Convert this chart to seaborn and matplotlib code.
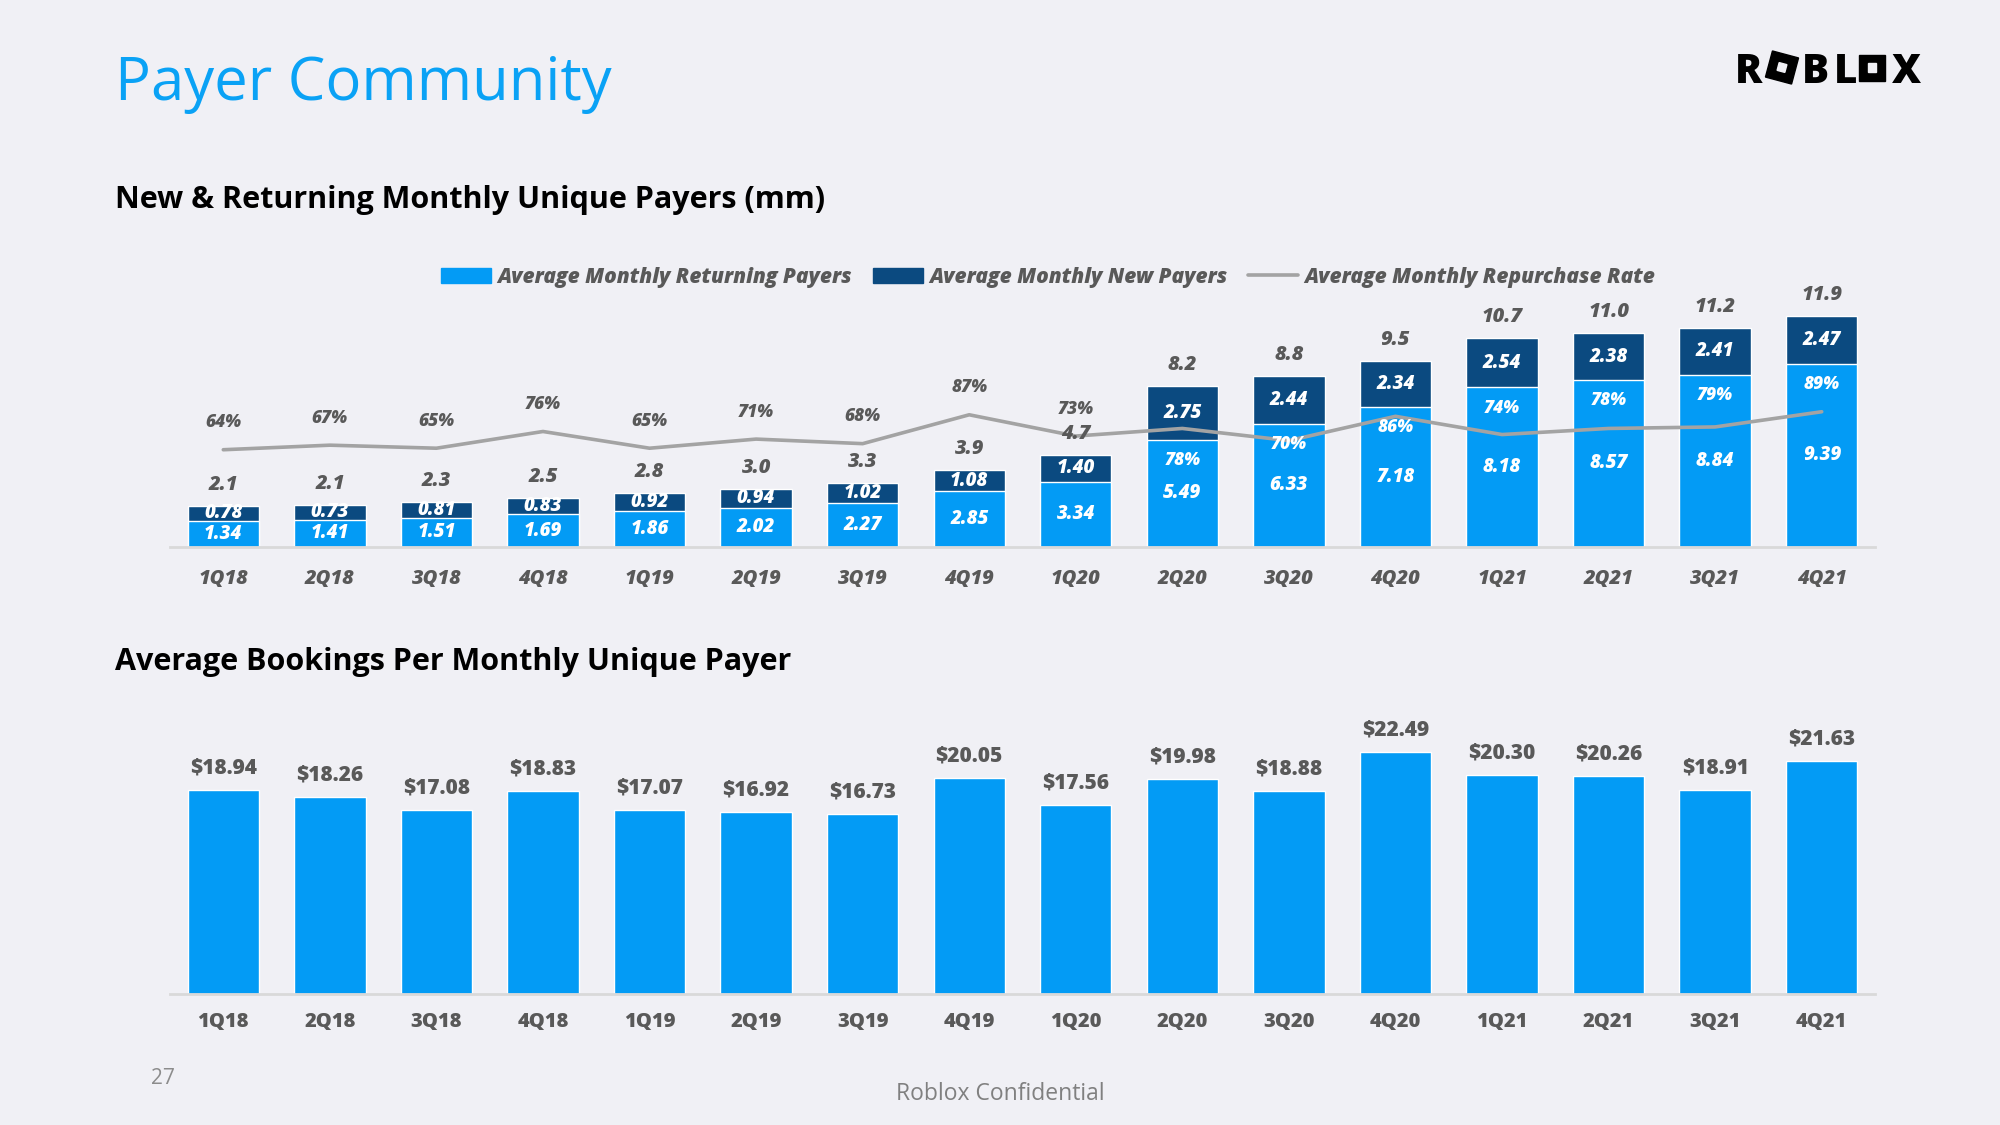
import numpy as np
import pandas as pd
import seaborn as sns
import matplotlib.pyplot as plt
from matplotlib.patches import Patch, Rectangle
from matplotlib.lines import Line2D

# data
quarters = ["1Q18", "2Q18", "3Q18", "4Q18", "1Q19", "2Q19", "3Q19", "4Q19",
            "1Q20", "2Q20", "3Q20", "4Q20", "1Q21", "2Q21", "3Q21", "4Q21"]
returning = [1.34, 1.41, 1.51, 1.69, 1.86, 2.02, 2.27, 2.85,
             3.34, 5.49, 6.33, 7.18, 8.18, 8.57, 8.84, 9.39]
new_payers = [0.78, 0.73, 0.81, 0.83, 0.92, 0.94, 1.02, 1.08,
              1.40, 2.75, 2.44, 2.34, 2.54, 2.38, 2.41, 2.47]
totals = [2.1, 2.1, 2.3, 2.5, 2.8, 3.0, 3.3, 3.9,
          4.7, 8.2, 8.8, 9.5, 10.7, 11.0, 11.2, 11.9]
repurchase = [64, 67, 65, 76, 65, 71, 68, 87, 73, 78, 70, 86, 74, 78, 79, 89]
bookings = [18.94, 18.26, 17.08, 18.83, 17.07, 16.92, 16.73, 20.05,
            17.56, 19.98, 18.88, 22.49, 20.30, 20.26, 18.91, 21.63]

LIGHT = "#039BF5"
DARK = "#0B4A80"
LINE = "#A3A3A3"
BG = "#F0F0F5"
GRAY = "#595959"
TITLE_BLUE = "#0AA2F5"

df = pd.DataFrame({"quarter": quarters, "returning": returning,
                   "new": new_payers, "rate": repurchase, "bookings": bookings})
df["stack"] = df["returning"] + df["new"]

sns.set_style("white")
plt.rcParams["font.family"] = ["Open Sans", "DejaVu Sans"]

fig = plt.figure(figsize=(20, 11.25), dpi=100, facecolor=BG)
H = 1125.0

def px(x, y):
    # pixel (from top) -> figure fraction
    return x / 2000.0, 1 - y / H

num_font = dict(family="Open Sans", weight=800, style="italic")

# ---------- top chart ----------
ax1 = fig.add_axes([0.085, 1 - 547 / H, 0.8525, 253.5 / H])
ax1.set_facecolor("none")
sns.barplot(data=df, x="quarter", y="stack", color=DARK, width=0.67,
            saturation=1, ax=ax1)
sns.barplot(data=df, x="quarter", y="returning", color=LIGHT, width=0.67,
            saturation=1, ax=ax1)
ax1.set_ylim(0, 13)
ax1.set_xlim(-0.5, 15.5)

ax2 = ax1.twinx()
sns.lineplot(x=np.arange(len(quarters)), y=df["rate"] / 100, ax=ax2,
             color=LINE, lw=2.6)
ax2.set_ylim(0, 1.668)
ax2.set_xlim(-0.5, 15.5)

for a in (ax1, ax2):
    a.set_ylabel("")
    a.set_xlabel("")
    a.set_yticks([])
    for s in ("top", "right", "left"):
        a.spines[s].set_visible(False)
ax2.spines["bottom"].set_visible(False)
ax1.spines["bottom"].set_color("#D9D9D9")
ax1.spines["bottom"].set_linewidth(2)
ax1.tick_params(axis="x", length=0, pad=16)
ax1.set_xticks(range(len(quarters)))
ax1.set_xticklabels(quarters, fontsize=14.5, color=GRAY, **num_font)

for i in range(len(quarters)):
    r, n, t = returning[i], new_payers[i], returning[i] + new_payers[i]
    ax2.annotate(f"{totals[i]:.1f}", (i, t), xycoords=ax1.transData,
                 xytext=(0, 21), textcoords="offset pixels", ha="center",
                 va="center", fontsize=14.5, color=GRAY, **num_font)
    ax2.annotate(f"{n:.2f}", (i, r + n / 2), xycoords=ax1.transData,
                 ha="center", va="center", fontsize=13.5, color="white",
                 **num_font)
    ax2.annotate(f"{r:.2f}", (i, r / 2), xycoords=ax1.transData,
                 ha="center", va="center", fontsize=13.5, color="white",
                 **num_font)
    if i < 9:
        ax2.annotate(f"{repurchase[i]}%", (i, repurchase[i] / 100),
                     xytext=(0, 27), textcoords="offset pixels",
                     ha="center", va="center", fontsize=12.5, color=GRAY,
                     **num_font)
    else:
        ax2.annotate(f"{repurchase[i]}%", (i, r), xycoords=ax1.transData,
                     xytext=(0, -21), textcoords="offset pixels",
                     ha="center", va="center", fontsize=12.5, color="white",
                     **num_font)

handles = [Patch(color=LIGHT), Patch(color=DARK),
           Line2D([], [], color=LINE, lw=2.6)]
labels = ["Average Monthly Returning Payers", "Average Monthly New Payers",
          "Average Monthly Repurchase Rate"]
fig.legend(handles, labels, loc="center", bbox_to_anchor=(0.524, 1 - 277 / H),
           ncol=3, frameon=False, handlelength=2.4, handleheight=0.7,
           columnspacing=1.0, handletextpad=0.3, labelcolor=GRAY,
           prop=dict(family="Open Sans", weight=800, style="italic", size=15))

# ---------- bottom chart ----------
ax3 = fig.add_axes([0.085, 1 - 994 / H, 0.8525, 294 / H])
ax3.set_facecolor("none")
sns.barplot(data=df, x="quarter", y="bookings", color=LIGHT, width=0.67,
            saturation=1, ax=ax3)
ax3.set_ylim(0, 27.3)
ax3.set_xlim(-0.5, 15.5)
ax3.set_ylabel("")
ax3.set_xlabel("")
ax3.set_yticks([])
for s in ("top", "right", "left"):
    ax3.spines[s].set_visible(False)
ax3.spines["bottom"].set_color("#D9D9D9")
ax3.spines["bottom"].set_linewidth(2)
ax3.tick_params(axis="x", length=0, pad=13)
ax3.set_xticks(range(len(quarters)))
ax3.set_xticklabels(quarters, fontsize=14.5, color=GRAY, weight=800)
for i, b in enumerate(bookings):
    ax3.annotate(f"${b:.2f}", (i, b), xytext=(0, 22), textcoords="offset pixels",
                 ha="center", va="center", fontsize=15, color=GRAY,
                 weight=800)

# ---------- slide text ----------
fig.text(*px(115, 100), "Payer Community", fontsize=43, color=TITLE_BLUE,
         ha="left", va="baseline")
fig.text(*px(115, 208), "New & Returning Monthly Unique Payers (mm)",
         fontsize=22, color="black", weight="bold", ha="left", va="baseline")
fig.text(*px(115, 670), "Average Bookings Per Monthly Unique Payer",
         fontsize=22, color="black", weight="bold", ha="left", va="baseline")
fig.text(*px(163, 1078), "27", fontsize=15, color="#8C8C8C", ha="center",
         va="center")
fig.text(*px(1000, 1094), "Roblox Confidential", fontsize=16.5, color="#808080",
         ha="center", va="center")

# ---------- logo ----------
for ch, cx in (("R", 1748), ("B", 1815), ("L", 1846), ("X", 1906)):
    fig.text(*px(cx, 83), ch, fontsize=29, weight=800, color="black",
             ha="center", va="baseline")
inch = fig.dpi_scale_trans
for cx, side, ang in ((1782, 27, -15), (1872, 26, 0)):
    cy = 67.5
    fig.patches.append(Rectangle(((cx - side / 2) / 100, (H - cy - side / 2) / 100),
                                 side / 100, side / 100, angle=ang,
                                 rotation_point="center", color="black",
                                 transform=inch, figure=fig))
    fig.patches.append(Rectangle(((cx - 4) / 100, (H - cy - 4) / 100),
                                 0.08, 0.08, angle=ang, rotation_point="center",
                                 color=BG, transform=inch, figure=fig))

fig.savefig("out.png", dpi=100, facecolor=BG)
